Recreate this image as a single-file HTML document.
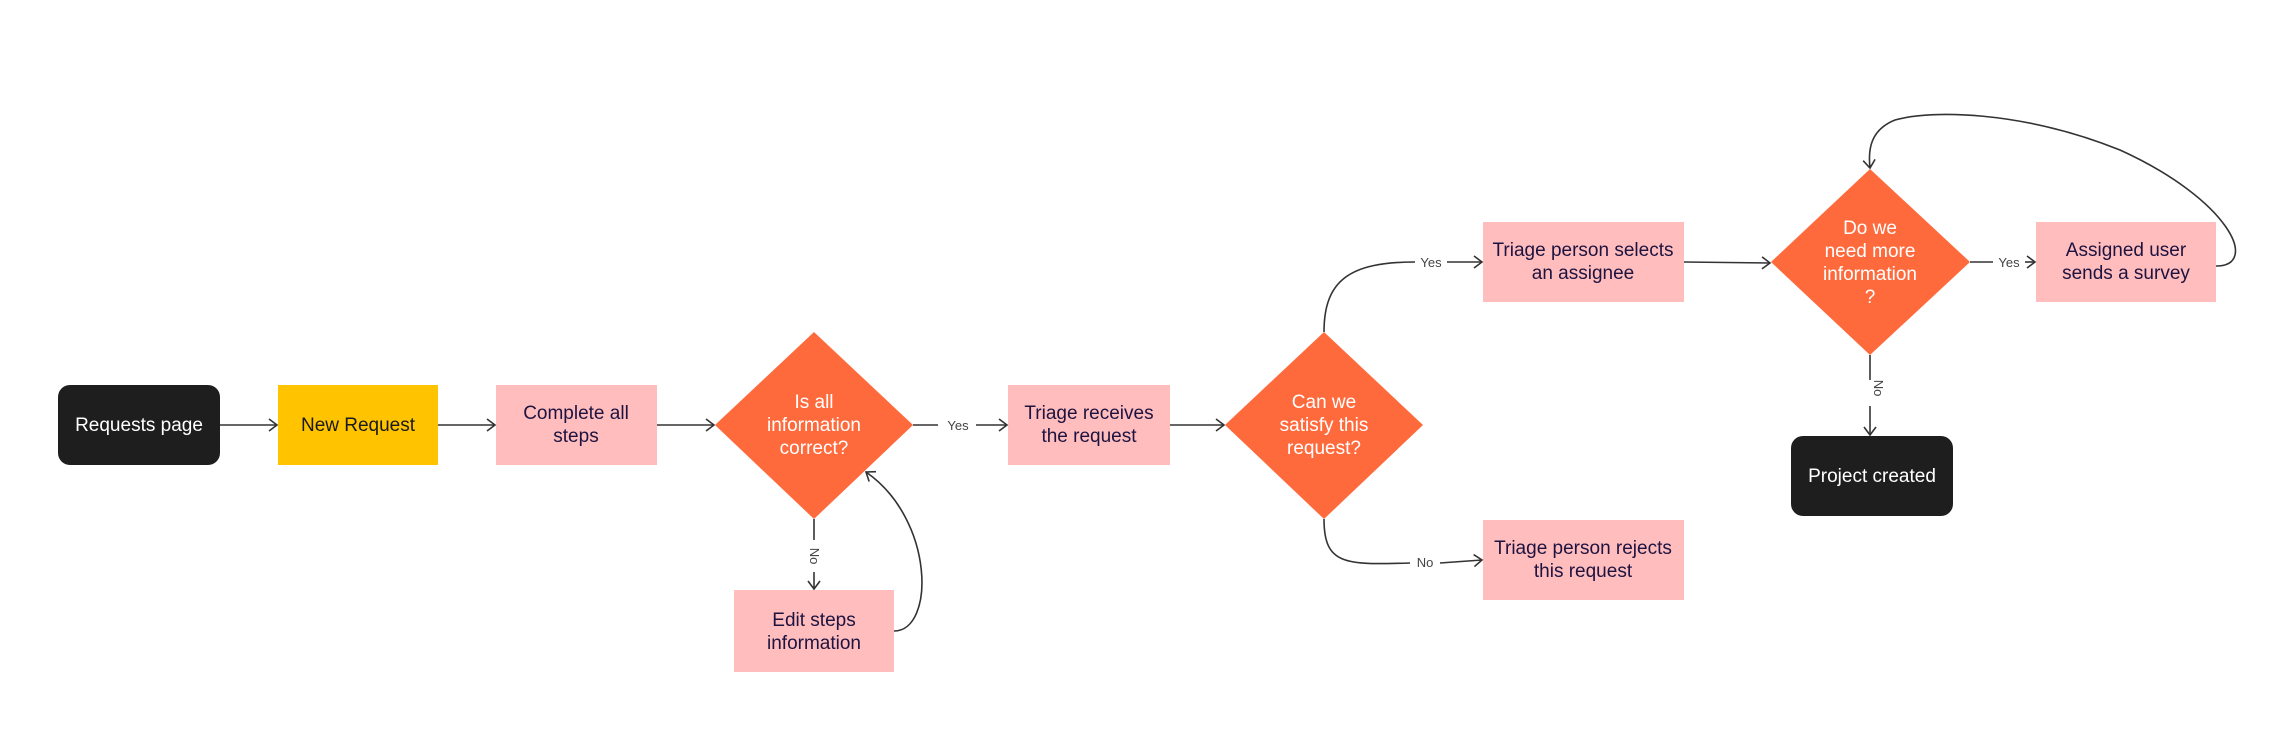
<!DOCTYPE html>
<html><head><meta charset="utf-8"><style>
html,body{margin:0;padding:0;background:#fff;}
svg{display:block;}
text{font-family:"Liberation Sans",Arial,sans-serif;}
.t{font-size:19px;fill:#1d1340;text-anchor:middle;}
.w{font-size:19px;fill:#fff;text-anchor:middle;}
.l{font-size:13px;fill:#444;text-anchor:middle;}
.c{stroke:#333;stroke-width:1.6;fill:none;}
</style></head><body>
<svg width="2280" height="752" viewBox="0 0 2280 752" xmlns="http://www.w3.org/2000/svg">
<defs><marker id="a" markerWidth="14" markerHeight="14" refX="11" refY="7" orient="auto" markerUnits="userSpaceOnUse"><path d="M3,1 L11,7 L3,13" fill="none" stroke="#333" stroke-width="1.6"/></marker></defs>

<rect x="58" y="385" width="162" height="80" rx="12" fill="#1e1e1e"/>
<text class="w" x="139" y="431">Requests page</text>
<rect x="278" y="385" width="160" height="80" fill="#FFC300"/>
<text class="t" x="358" y="431" style="fill:#1a1a1a">New Request</text>
<rect x="496" y="385" width="161" height="80" fill="#FFBDBD"/>
<text class="t" x="576" y="419">Complete all</text><text class="t" x="576" y="442">steps</text>

<polygon points="814,332 913,425 814,519 715,425" fill="#FF6A3D"/>
<text class="w" x="814" y="408">Is all</text><text class="w" x="814" y="431">information</text><text class="w" x="814" y="454">correct?</text>

<rect x="734" y="590" width="160" height="82" fill="#FFBDBD"/>
<text class="t" x="814" y="626">Edit steps</text><text class="t" x="814" y="649">information</text>

<rect x="1008" y="385" width="162" height="80" fill="#FFBDBD"/>
<text class="t" x="1089" y="419">Triage receives</text><text class="t" x="1089" y="442">the request</text>

<polygon points="1324,332 1423,425 1324,519 1225,425" fill="#FF6A3D"/>
<text class="w" x="1324" y="408">Can we</text><text class="w" x="1324" y="431">satisfy this</text><text class="w" x="1324" y="454">request?</text>

<rect x="1483" y="222" width="201" height="80" fill="#FFBDBD"/>
<text class="t" x="1583" y="256">Triage person selects</text><text class="t" x="1583" y="279">an assignee</text>
<rect x="1483" y="520" width="201" height="80" fill="#FFBDBD"/>
<text class="t" x="1583" y="554">Triage person rejects</text><text class="t" x="1583" y="577">this request</text>

<polygon points="1870,169 1970,262 1870,355 1771,262" fill="#FF6A3D"/>
<text class="w" x="1870" y="234">Do we</text><text class="w" x="1870" y="257">need more</text><text class="w" x="1870" y="280">information</text><text class="w" x="1870" y="303">?</text>

<rect x="2036" y="222" width="180" height="80" fill="#FFBDBD"/>
<text class="t" x="2126" y="256">Assigned user</text><text class="t" x="2126" y="279">sends a survey</text>

<rect x="1791" y="436" width="162" height="80" rx="12" fill="#1e1e1e"/>
<text class="w" x="1872" y="482">Project created</text>

<line class="c" x1="220" y1="425" x2="277" y2="425" marker-end="url(#a)"/>
<line class="c" x1="438" y1="425" x2="495" y2="425" marker-end="url(#a)"/>
<line class="c" x1="657" y1="425" x2="714" y2="425" marker-end="url(#a)"/>
<line class="c" x1="913" y1="425" x2="938" y2="425"/>
<text class="l" x="958" y="430">Yes</text>
<line class="c" x1="976" y1="425" x2="1007" y2="425" marker-end="url(#a)"/>
<line class="c" x1="814" y1="519" x2="814" y2="540"/>
<text class="l" transform="translate(810,556) rotate(90)" x="0" y="0">No</text>
<line class="c" x1="814" y1="572" x2="814" y2="589" marker-end="url(#a)"/>
<path class="c" d="M894,631 C935,631 935,520 866,472" marker-end="url(#a)"/>
<line class="c" x1="1170" y1="425" x2="1224" y2="425" marker-end="url(#a)"/>
<path class="c" d="M1324,332 C1324,280 1350,262 1415,262"/>
<text class="l" x="1431" y="267">Yes</text>
<line class="c" x1="1447" y1="262" x2="1482" y2="262" marker-end="url(#a)"/>
<path class="c" d="M1324,519 C1324,565 1345,565 1410,563"/>
<text class="l" x="1425" y="567">No</text>
<line class="c" x1="1440" y1="563" x2="1482" y2="560" marker-end="url(#a)"/>
<line class="c" x1="1684" y1="262" x2="1770" y2="263" marker-end="url(#a)"/>
<line class="c" x1="1970" y1="262" x2="1993" y2="262"/>
<text class="l" x="2009" y="267">Yes</text>
<line class="c" x1="2025" y1="262" x2="2035" y2="262" marker-end="url(#a)"/>
<line class="c" x1="1870" y1="355" x2="1870" y2="380"/>
<text class="l" transform="translate(1874,388) rotate(90)" x="0" y="0">No</text>
<line class="c" x1="1870" y1="406" x2="1870" y2="435" marker-end="url(#a)"/>
<path class="c" d="M2216,266 C2260,266 2230,200 2120,150 C2020,110 1930,110 1895,120 C1870,130 1868,150 1870,168" marker-end="url(#a)"/>
</svg>
</body></html>
